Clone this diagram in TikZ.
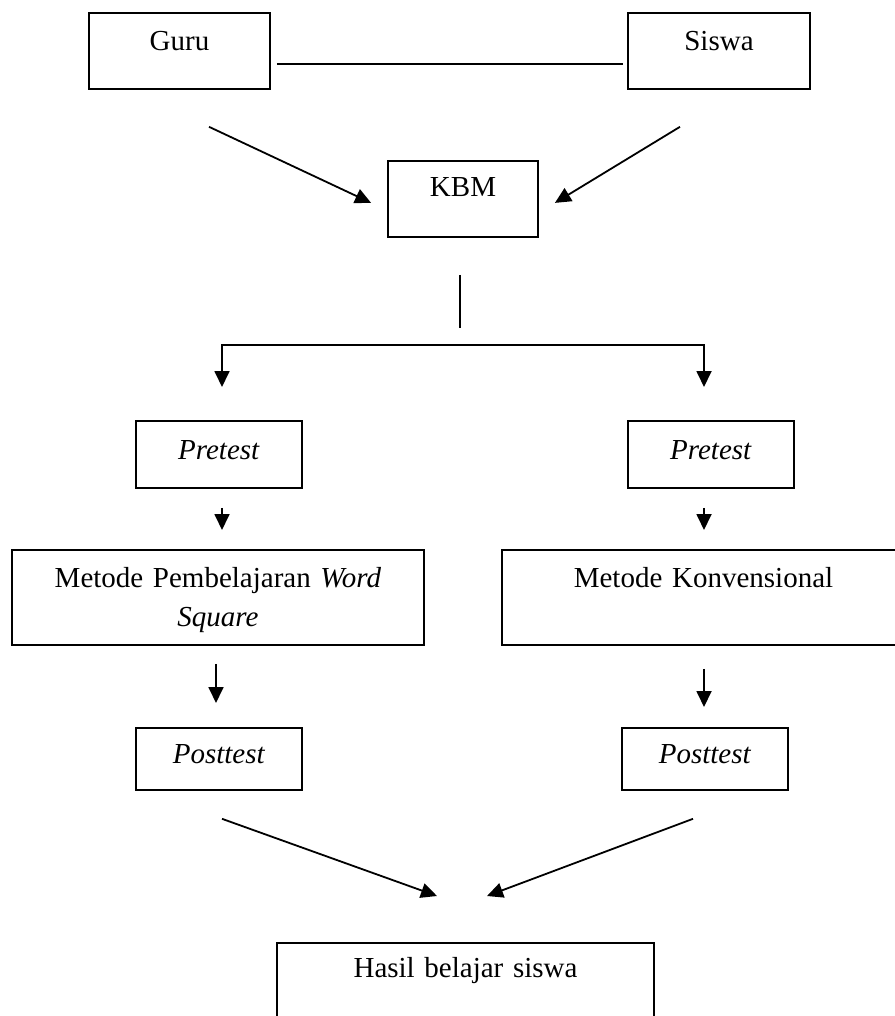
\documentclass[tikz,border=0pt]{standalone}
\usepackage{fontspec}
\setmainfont{Liberation Serif}
\usetikzlibrary{arrows.meta}
\begin{document}
\begin{tikzpicture}[x=1pt,y=-1pt,
      box/.style={
        draw,
        line width=1.8pt,
        inner sep=0pt,
        align=center,
        font=\fontsize{29}{39}\selectfont,
        anchor=north
      },
      small/.style={box,text width=166pt},
      >={Triangle[length=16pt,width=15pt]},
      line width=1.8pt
    ]
    \useasboundingbox (0,0) rectangle (894,1016);
    \node[box,text width=181pt,text height=38pt,text depth=38pt] at (179.5,12) (guru) {Guru};
    \node[box,text width=182pt,text height=38pt,text depth=38pt] at (719,12) (siswa) {Siswa};
    \node[box,text width=150pt,text height=36pt,text depth=40pt] at (463,160) (kbm) {KBM};
    \node[small,text height=39pt,text depth=28pt] at (219,420) (preL) {\textit{Pretest}};
    \node[small,text height=39pt,text depth=28pt] at (711,420) (preR) {\textit{Pretest}};
    \node[box,text width=412pt,text height=38pt,text depth=57pt] at (218,549) (metL) {Metode Pembelajaran \textit{Word}\\\textit{Square}};
    \node[box,text width=403pt,text height=38pt,text depth=57pt] at (703.5,549) (metR) {Metode Konvensional};
    \node[small,text height=36pt,text depth=26pt] at (219,727) (postL) {\textit{Posttest}};
    \node[small,text height=36pt,text depth=26pt] at (705,727) (postR) {\textit{Posttest}};
    \node[box,text width=377pt,text height=35pt,text depth=60pt] at (465.5,942) (hasil) {Hasil belajar siswa};
    \draw ([shift={(6pt,-13pt)}]guru.east) -- ([shift={(-4pt,-13pt)}]siswa.west);
    \draw[->] ([shift={(29.5pt,-37pt)}]guru.south) -- ([shift={(-16pt,-4pt)}]kbm.west);
    \draw[->] ([shift={(-39pt,-37pt)}]siswa.south) -- ([shift={(16pt,-4pt)}]kbm.east);
    \draw ([shift={(-3pt,-37pt)}]kbm.south) -- ++(0,53);
    \draw[<->] ([shift={(3pt,33pt)}]preL.north) -- ++(0,-42) -| ([shift={(-7pt,33pt)}]preR.north);
    \draw[->] ([shift={(3pt,-19pt)}]preL.south) -- ([shift={(4pt,19pt)}]metL.north);
    \draw[->] ([shift={(-7pt,-19pt)}]preR.south) -- ([shift={(0.5pt,19pt)}]metR.north);
    \draw[->] ([shift={(-2pt,-18pt)}]metL.south) -- ([shift={(-3pt,24pt)}]postL.north);
    \draw[->] ([shift={(0.5pt,-23pt)}]metR.south) -- ([shift={(-1pt,20pt)}]postR.north);
    \draw[->] ([shift={(3pt,-28pt)}]postL.south) -- ([shift={(-28.5pt,46pt)}]hasil.north);
    \draw[->] ([shift={(-12pt,-28pt)}]postR.south) -- ([shift={(21.5pt,46pt)}]hasil.north);
  \end{tikzpicture}
\end{document}
